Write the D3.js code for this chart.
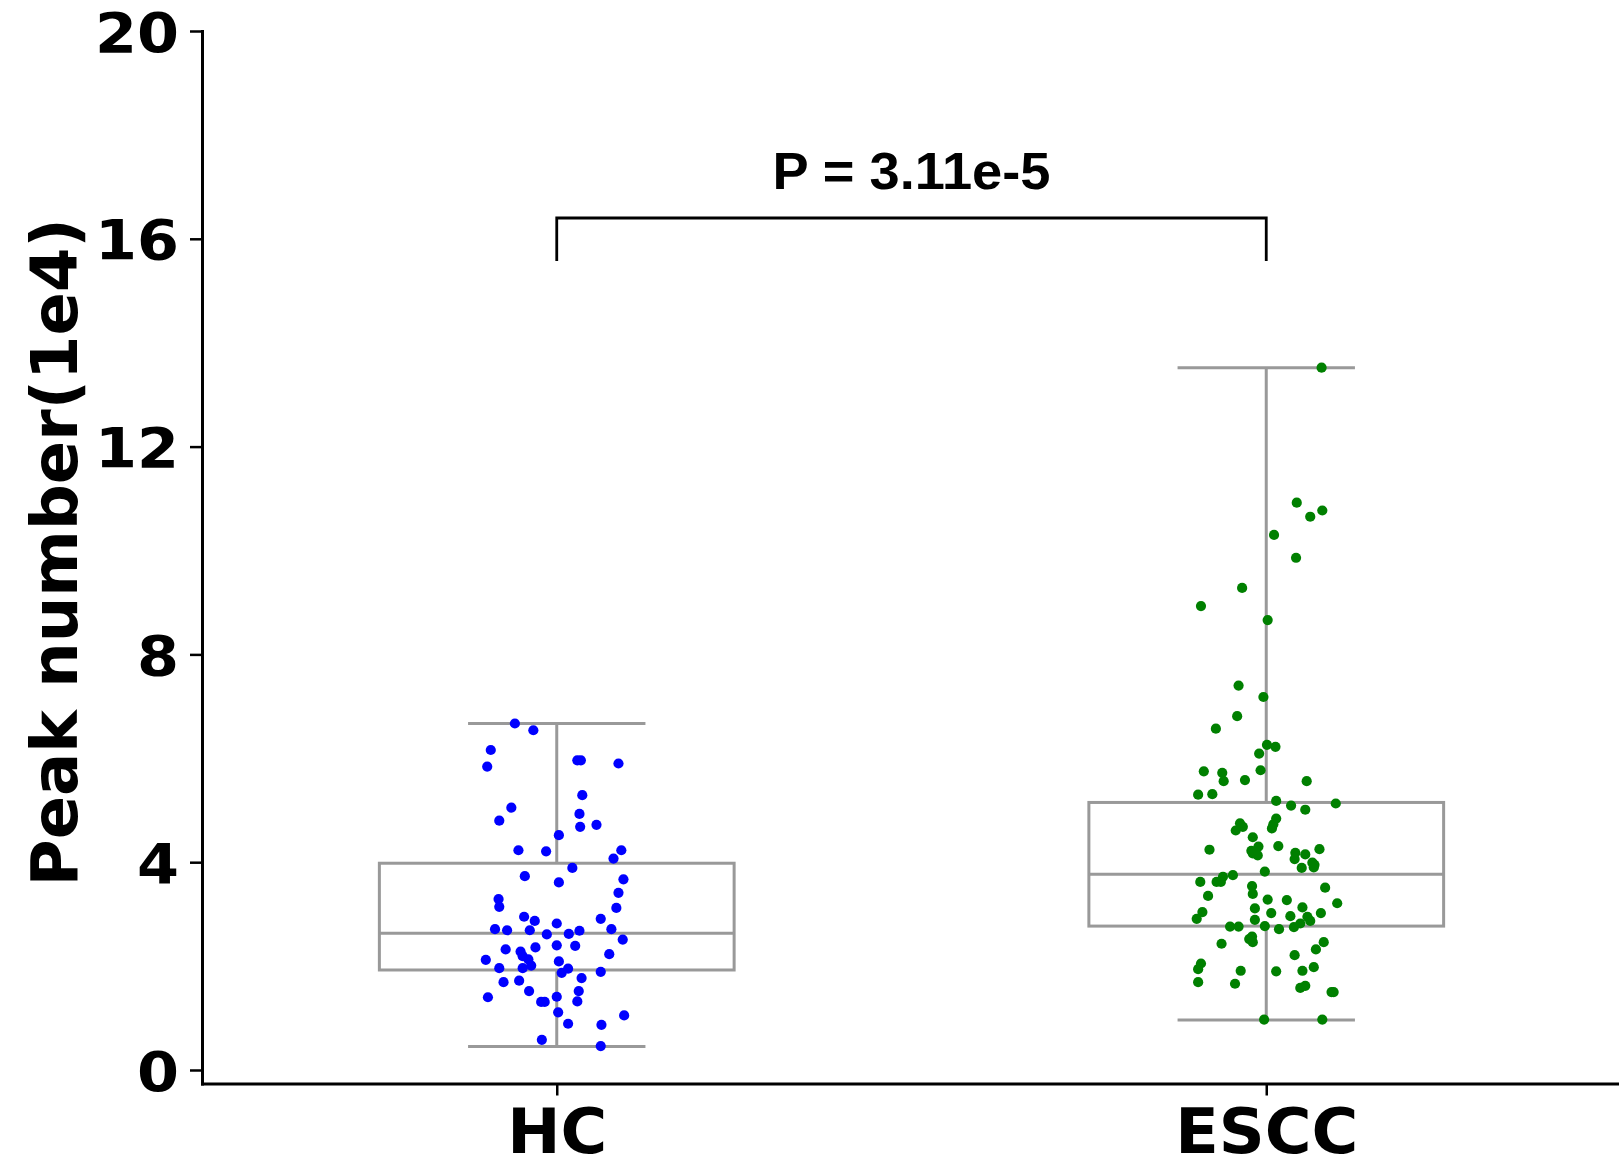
<!DOCTYPE html>
<html>
<head>
<meta charset="utf-8">
<script src="https://cdn.jsdelivr.net/npm/d3@7"></script>
<style>
  html, body { margin: 0; padding: 0; background: #fff; }
  svg { display: block; }
</style>
</head>
<body>
<svg id="chart" width="1619" height="1167"></svg>
<script>
// ---------- data ----------
const categories = ["HC", "ESCC"];
const yTicks = [0, 4, 8, 12, 16, 20];
const yLabel = "Peak number(1e4)";
const pLabel = "P = 3.11e-5";

// box statistics: [lower whisker, Q1, median, Q3, upper whisker]
const hcBox   = [0.45, 1.925, 2.63, 3.98, 6.67];
const esccBox = [0.96, 2.77, 3.77, 5.15, 13.52];

// individual samples (values) and their horizontal jitter (category units)
const hcValues = [6.67,6.54,6.16,5.84,5.96,5.96,5.90,5.29,5.05,4.80,4.93,4.68,4.72,4.52,4.23,4.21,4.23,4.07,3.89,3.73,
  3.61,3.67,3.41,3.29,3.14,3.12,2.95,2.87,2.82,2.91,2.71,2.69,2.69,2.61,2.62,2.68,2.71,2.51,2.32,2.28,
  2.19,2.13,2.36,2.40,2.39,2.23,2.12,1.96,1.96,2.01,2.09,1.95,1.87,1.89,1.77,1.69,1.72,1.52,1.52,1.40,
  1.31,1.31,1.41,1.32,1.11,1.05,0.89,0.87,0.58,0.46];
const hcJitter = [-0.059,-0.033,-0.093,-0.098,0.029,0.034,0.087,0.036,-0.064,-0.081,0.032,0.033,0.056,0.003,-0.054,-0.015,0.091,0.080,0.022,-0.045,
  0.003,0.094,0.087,-0.082,-0.081,0.084,-0.046,-0.031,0.000,0.062,-0.087,-0.070,-0.038,-0.014,0.017,0.032,0.077,0.093,-0.072,-0.051,
  -0.048,-0.040,-0.030,0.000,0.026,0.074,-0.100,-0.081,-0.048,-0.036,0.003,0.016,0.007,0.062,0.035,-0.075,-0.053,-0.039,0.031,-0.097,
  -0.022,-0.017,0.000,0.029,0.002,0.095,0.016,0.063,-0.021,0.062];

const esccValues = [13.52,10.92,10.77,10.65,10.30,9.86,9.28,8.93,8.66,7.40,7.18,6.81,6.57,
  6.26,6.22,6.09,5.75,5.72,5.56,5.58,5.77,5.56,5.30,5.31,5.18,5.09,5.13,5.01,4.75,4.68,4.61,4.84,4.73,4.65,4.48,
  4.24,4.30,4.22,4.17,4.13,4.31,4.18,4.06,4.15,4.25,3.99,3.95,3.90,3.89,3.82,3.62,3.72,3.75,3.62,3.62,
  3.54,3.39,3.51,3.35,3.28,3.27,3.13,3.21,3.11,3.02,2.96,2.95,2.87,3.02,3.04,2.91,2.89,2.77,2.76,2.76,
  2.71,2.75,2.82,2.57,2.52,2.46,2.43,2.46,2.32,2.21,2.05,1.94,1.91,1.90,1.91,1.98,1.69,1.66,1.58,1.62,
  1.50,1.50,0.97,0.97];
const esccJitter = [0.078,0.043,0.079,0.062,0.011,0.042,-0.034,-0.092,0.002,-0.039,-0.004,-0.041,-0.071,
  0.001,0.013,-0.010,-0.088,-0.062,-0.060,-0.030,-0.008,0.057,-0.096,-0.076,0.014,0.035,0.098,0.055,-0.037,-0.033,-0.043,0.014,0.010,0.008,-0.019,
  -0.080,-0.011,-0.021,-0.019,-0.012,0.017,0.041,0.040,0.055,0.075,0.065,0.068,0.067,0.050,-0.002,-0.093,-0.061,-0.047,-0.070,-0.064,
  -0.020,-0.019,0.083,-0.082,0.002,0.029,0.051,0.100,-0.016,0.007,0.034,0.058,0.062,0.077,-0.090,-0.098,-0.016,-0.002,-0.051,-0.039,
  0.018,0.039,0.048,-0.020,-0.024,-0.019,-0.063,0.081,0.070,0.040,-0.092,-0.096,-0.036,0.014,0.051,0.067,-0.096,-0.044,0.048,0.055,
  0.092,0.095,-0.003,0.079];

const groups = [
  { name: categories[0], box: hcBox,   values: hcValues,   jitter: hcJitter,   color: "#0000ff" },
  { name: categories[1], box: esccBox, values: esccValues, jitter: esccJitter, color: "#008000" }
];

// ---------- layout ----------
const svg = d3.select("#chart");
const x = d3.scaleLinear().domain([-0.5, 1.5]).range([202, 1621]);
const y = d3.scaleLinear().domain([-0.26, 20]).range([1083.5, 31]);
const boxHalf = 0.25, capHalf = 0.125;
const gray = "#999999";

// boxes
const g = svg.append("g");
groups.forEach((d, i) => {
  const [lo, q1, med, q3, hi] = d.box;
  const bg = g.append("g").attr("fill", "none").attr("stroke", gray).attr("stroke-width", 3);
  bg.append("rect")
    .attr("x", x(i - boxHalf)).attr("y", y(q3))
    .attr("width", x(i + boxHalf) - x(i - boxHalf)).attr("height", y(q1) - y(q3));
  bg.append("line").attr("x1", x(i - boxHalf)).attr("x2", x(i + boxHalf)).attr("y1", y(med)).attr("y2", y(med));
  bg.append("line").attr("x1", x(i)).attr("x2", x(i)).attr("y1", y(q3)).attr("y2", y(hi));
  bg.append("line").attr("x1", x(i)).attr("x2", x(i)).attr("y1", y(q1)).attr("y2", y(lo));
  bg.append("line").attr("x1", x(i - capHalf)).attr("x2", x(i + capHalf)).attr("y1", y(hi)).attr("y2", y(hi));
  bg.append("line").attr("x1", x(i - capHalf)).attr("x2", x(i + capHalf)).attr("y1", y(lo)).attr("y2", y(lo));
});

// points
groups.forEach((d, i) => {
  g.append("g").selectAll("circle")
    .data(d.values.map((v, k) => ({ v, j: d.jitter[k] })))
    .join("circle")
    .attr("cx", p => x(i + p.j))
    .attr("cy", p => y(p.v))
    .attr("r", 5.1)
    .attr("fill", d.color);
});

// axes
const yAxis = d3.axisLeft(y).tickValues(yTicks).tickSize(12).tickSizeOuter(0).tickPadding(11);
const yg = svg.append("g").attr("transform", `translate(${x(-0.5)},0)`).call(yAxis);
yg.select(".domain").attr("stroke", "#000").attr("stroke-width", 3);
yg.selectAll(".tick line").attr("stroke", "#000").attr("stroke-width", 2.5);
yg.selectAll(".tick text")
  .attr("font-family", "DejaVu Sans").attr("font-weight", "bold").attr("font-size", 56)
  .attr("fill", "#000").attr("dy", "0.36em")
  .attr("lengthAdjust", "spacingAndGlyphs")
  .attr("textLength", d => String(d).length * 42);

const xAxis = d3.axisBottom(x).tickValues([0, 1]).tickFormat(i => categories[i])
  .tickSize(12).tickSizeOuter(0).tickPadding(14);
const xg = svg.append("g").attr("transform", `translate(0,${y.range()[0]})`).call(xAxis);
xg.select(".domain").attr("stroke", "#000").attr("stroke-width", 3);
xg.selectAll(".tick line").attr("stroke", "#000").attr("stroke-width", 2.5);
xg.selectAll(".tick text")
  .attr("font-family", "DejaVu Sans").attr("font-weight", "bold").attr("font-size", 62)
  .attr("fill", "#000").attr("y", 0).attr("dy", 0)
  .attr("transform", "translate(0,69)")
  .attr("lengthAdjust", "spacingAndGlyphs")
  .attr("textLength", d => d === 0 ? 100 : 183);
svg.selectAll(".domain").attr("stroke-linecap", "square");

// y label
svg.append("text")
  .attr("transform", `translate(77,${(y(20) + y(-0.26)) / 2 - 5}) rotate(-90)`)
  .attr("text-anchor", "middle")
  .attr("font-family", "DejaVu Sans").attr("font-weight", "bold").attr("font-size", 64)
  .text(yLabel);

// significance bracket
const bracketTop = 218, bracketBottom = 261;
svg.append("path")
  .attr("d", `M${x(0)},${bracketBottom}V${bracketTop}H${x(1)}V${bracketBottom}`)
  .attr("fill", "none").attr("stroke", "#000").attr("stroke-width", 2.8);
svg.append("text")
  .attr("x", (x(0) + x(1)) / 2).attr("y", 189)
  .attr("text-anchor", "middle")
  .attr("font-family", "Liberation Sans").attr("font-weight", "bold").attr("font-size", 52)
  .attr("lengthAdjust", "spacingAndGlyphs").attr("textLength", 278)
  .text(pLabel);
</script>
</body>
</html>
